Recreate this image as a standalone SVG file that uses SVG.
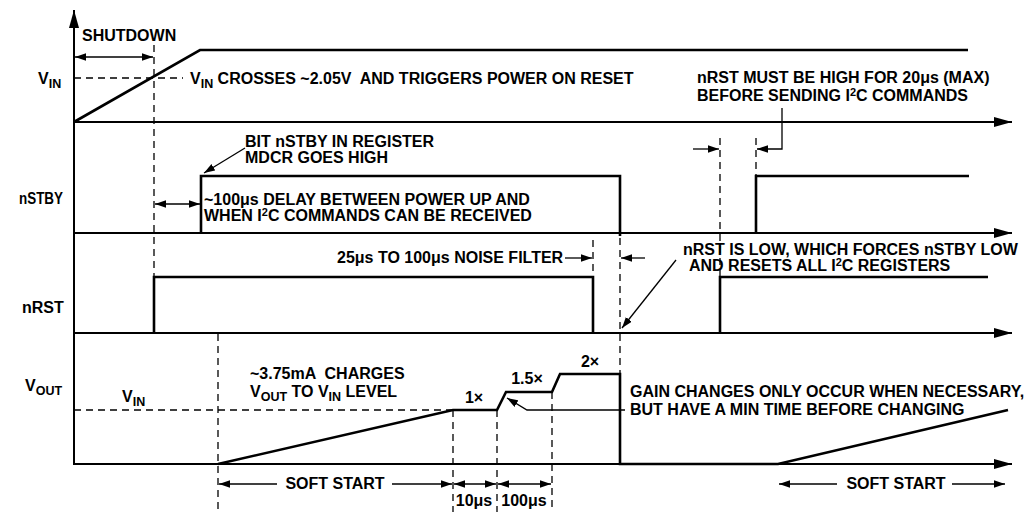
<svg xmlns="http://www.w3.org/2000/svg" width="1027" height="513" viewBox="0 0 1027 513">
<defs>
<marker id="ah" markerUnits="userSpaceOnUse" markerWidth="12" markerHeight="8" refX="11" refY="3.75" orient="auto-start-reverse">
<path d="M0,0 L11,3.75 L0,7.5 z" fill="#000"/>
</marker>
<marker id="big" markerUnits="userSpaceOnUse" markerWidth="19" markerHeight="11" refX="18" refY="5" orient="auto">
<path d="M0,0 L18,5 L0,10 z" fill="#000"/>
</marker>
</defs>
<style>
text{font-family:"Liberation Sans",Arial,Helvetica,sans-serif;font-weight:bold;font-size:16px;fill:#000}
.sub{font-size:12.5px}
.sup{font-size:11px}
.axis{stroke:#000;stroke-width:2;fill:none}
.sig{stroke:#000;stroke-width:2.6;fill:none;stroke-linejoin:miter}
.dash{stroke:#000;stroke-width:1.3;fill:none;stroke-dasharray:7,5}
.arr{stroke:#000;stroke-width:1.3;fill:none}
.mid{text-anchor:middle}
</style>
<rect width="1027" height="513" fill="#fff"/>

<g id="axes">
<line class="axis" x1="74" y1="465" x2="74" y2="10" marker-end="url(#big)"/>
<line class="axis" x1="74" y1="122" x2="1012" y2="122" marker-end="url(#big)"/>
<line class="axis" x1="74" y1="233" x2="1012" y2="233" marker-end="url(#big)"/>
<line class="axis" x1="74" y1="333" x2="1012" y2="333" marker-end="url(#big)"/>
<line class="axis" x1="74" y1="464" x2="1012" y2="464" marker-end="url(#big)"/>
</g>

<g id="vin-signal">
<polyline class="sig" points="74,122 200,50 968,50"/>
<text x="38" y="84">V<tspan class="sub" dy="4">IN</tspan></text>
</g>

<g id="nstby-signal">
<polyline class="sig" points="201,233 201,176 620,176 620,236"/>
<polyline class="sig" points="756,233 756,176 969,176"/>
<text x="19" y="204" textLength="44" lengthAdjust="spacingAndGlyphs">nSTBY</text>
</g>

<g id="nrst-signal">
<polyline class="sig" points="154,333 154,277 593,277 593,333"/>
<polyline class="sig" points="720,333 720,277 988,277"/>
<text x="22" y="313">nRST</text>
</g>

<g id="vout-signal">
<polyline class="sig" points="218,464 453,410 497,410 506,392 552,392 560,374 620,374 620,464 778,464 1008,410"/>
<text x="25" y="391">V<tspan class="sub" dy="4">OUT</tspan></text>
</g>

<g id="connectors">
<line class="dash" x1="74" y1="78" x2="183" y2="78"/>
<line class="dash" x1="154" y1="45" x2="154" y2="277"/>
<line class="dash" x1="620" y1="238" x2="620" y2="374"/>
<line class="dash" x1="593" y1="240" x2="593" y2="277"/>
<line class="dash" x1="720" y1="138" x2="720" y2="277"/>
<line class="dash" x1="756" y1="138" x2="756" y2="176"/>
<line class="dash" x1="74" y1="410" x2="453" y2="410"/>
<line class="dash" x1="218" y1="334" x2="218" y2="512"/>
<line class="dash" x1="453" y1="410" x2="453" y2="512"/>
<line class="dash" x1="497" y1="410" x2="497" y2="512"/>
<line class="dash" x1="552" y1="392" x2="552" y2="512"/>

<line class="arr" x1="75" y1="57" x2="153" y2="57" marker-start="url(#ah)" marker-end="url(#ah)"/>
<line class="arr" x1="245" y1="148" x2="204" y2="173" marker-end="url(#ah)"/>
<line class="arr" x1="155" y1="204" x2="200" y2="204" marker-start="url(#ah)" marker-end="url(#ah)"/>
<line class="arr" x1="693" y1="149" x2="719" y2="149" marker-end="url(#ah)"/>
<polyline class="arr" points="782,108 782,149 757,149" marker-end="url(#ah)"/>
<line class="arr" x1="565" y1="258" x2="592" y2="258" marker-end="url(#ah)"/>
<line class="arr" x1="645" y1="258" x2="621" y2="258" marker-end="url(#ah)"/>
<line class="arr" x1="676" y1="260" x2="622" y2="328" marker-end="url(#ah)"/>
<polyline class="arr" points="625,410 527,410 507,398" marker-end="url(#ah)"/>
<line class="arr" x1="277" y1="484" x2="219" y2="484" marker-end="url(#ah)"/>
<line class="arr" x1="392" y1="484" x2="452" y2="484" marker-end="url(#ah)"/>
<line class="arr" x1="454" y1="484" x2="496" y2="484" marker-start="url(#ah)" marker-end="url(#ah)"/>
<line class="arr" x1="498" y1="484" x2="551" y2="484" marker-start="url(#ah)" marker-end="url(#ah)"/>
<line class="arr" x1="837" y1="484" x2="779" y2="484" marker-end="url(#ah)"/>
<line class="arr" x1="952" y1="484" x2="1005" y2="484" marker-end="url(#ah)"/>
</g>

<g id="labels">
<text x="82" y="41">SHUTDOWN</text>
<text x="190" y="84" xml:space="preserve">V<tspan class="sub" dy="4">IN</tspan><tspan dy="-4"> CROSSES ~2.05V  AND TRIGGERS POWER ON RESET</tspan></text>
<text x="697" y="83">nRST MUST BE HIGH FOR 20μs (MAX)</text>
<text x="697" y="101">BEFORE SENDING I<tspan class="sup" dy="-5">2</tspan><tspan dy="5">C COMMANDS</tspan></text>
<text x="245" y="147">BIT nSTBY IN REGISTER</text>
<text x="245" y="163">MDCR GOES HIGH</text>
<text x="204" y="205">~100μs DELAY BETWEEN POWER UP AND</text>
<text x="204" y="221">WHEN I<tspan class="sup" dy="-5">2</tspan><tspan dy="5">C COMMANDS CAN BE RECEIVED</tspan></text>
<text x="337" y="263">25μs TO 100μs NOISE FILTER</text>
<text x="683" y="255">nRST IS LOW, WHICH FORCES nSTBY LOW</text>
<text x="689" y="271">AND RESETS ALL I<tspan class="sup" dy="-5">2</tspan><tspan dy="5">C REGISTERS</tspan></text>
<text x="122" y="402">V<tspan class="sub" dy="4">IN</tspan></text>
<text x="250" y="379" xml:space="preserve">~3.75mA  CHARGES</text>
<text x="250" y="397">V<tspan class="sub" dy="4">OUT</tspan><tspan dy="-4"> TO V</tspan><tspan class="sub" dy="4">IN</tspan><tspan dy="-4"> LEVEL</tspan></text>
<text class="mid" x="474" y="403">1×</text>
<text class="mid" x="527" y="384">1.5×</text>
<text class="mid" x="590" y="367">2×</text>
<text x="630" y="397">GAIN CHANGES ONLY OCCUR WHEN NECESSARY,</text>
<text x="630" y="415">BUT HAVE A MIN TIME BEFORE CHANGING</text>
<text class="mid" x="335" y="489">SOFT START</text>
<text class="mid" x="474" y="506">10μs</text>
<text class="mid" x="524" y="506">100μs</text>
<text class="mid" x="896" y="489">SOFT START</text>
</g>
</svg>
